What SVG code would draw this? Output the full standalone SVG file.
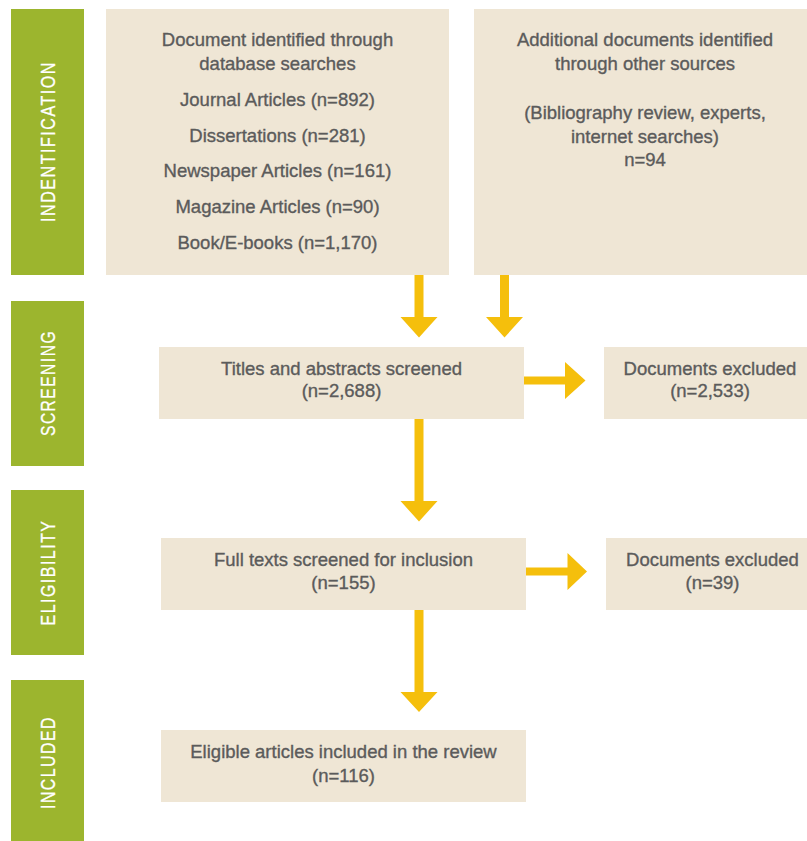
<svg xmlns="http://www.w3.org/2000/svg" width="807" height="841" viewBox="0 0 807 841">
<style>
.stage{fill:#9cb52e}
.stage-t{fill:#ffffff;stroke:#ffffff;stroke-width:0.3px;font-family:"Liberation Sans",Arial,sans-serif;font-size:21px;letter-spacing:2px;text-anchor:middle}
.box{fill:#efe6d5}
.t{fill:#5b5b5b;stroke:#5b5b5b;stroke-width:0.35px;font-family:"Liberation Sans",Arial,sans-serif;font-size:18.5px;text-anchor:middle}
.arrow{fill:#f5bf0c}
</style>
<rect width="807" height="841" fill="#ffffff"/>
<g id="stage-identification">
<rect class="stage" x="11" y="9" width="73" height="266"/>
<text class="stage-t" transform="translate(55,141.5) rotate(-90)" textLength="161" lengthAdjust="spacingAndGlyphs">INDENTIFICATION</text>
</g>
<g id="stage-screening">
<rect class="stage" x="11" y="301" width="73" height="165"/>
<text class="stage-t" transform="translate(55,383) rotate(-90)" textLength="106" lengthAdjust="spacingAndGlyphs">SCREENING</text>
</g>
<g id="stage-eligibility">
<rect class="stage" x="11" y="490" width="73" height="165"/>
<text class="stage-t" transform="translate(55,572.5) rotate(-90)" textLength="106" lengthAdjust="spacingAndGlyphs">ELIGIBILITY</text>
</g>
<g id="stage-included">
<rect class="stage" x="11" y="680" width="73" height="161"/>
<text class="stage-t" transform="translate(55,762.5) rotate(-90)" textLength="93" lengthAdjust="spacingAndGlyphs">INCLUDED</text>
</g>
<g id="database-search">
<rect class="box" x="106" y="9" width="343" height="266"/>
<text class="t" x="277.5" y="46">Document identified through</text>
<text class="t" x="277.5" y="70">database searches</text>
<text class="t" x="277.5" y="106">Journal Articles (n=892)</text>
<text class="t" x="277.5" y="142">Dissertations (n=281)</text>
<text class="t" x="277.5" y="177">Newspaper Articles (n=161)</text>
<text class="t" x="277.5" y="213">Magazine Articles (n=90)</text>
<text class="t" x="277.5" y="249">Book/E-books (n=1,170)</text>
</g>
<g id="other-sources">
<rect class="box" x="474" y="9" width="333" height="266"/>
<text class="t" x="645" y="46">Additional documents identified</text>
<text class="t" x="645" y="70">through other sources</text>
<text class="t" x="645" y="119">(Bibliography review, experts,</text>
<text class="t" x="645" y="143">internet searches)</text>
<text class="t" x="645" y="166">n=94</text>
</g>
<g id="titles-screened">
<rect class="box" x="159" y="347" width="365" height="72"/>
<text class="t" x="341.5" y="375">Titles and abstracts screened</text>
<text class="t" x="341.5" y="397">(n=2,688)</text>
</g>
<g id="excluded-screening">
<rect class="box" x="604" y="347" width="203" height="72"/>
<text class="t" x="710" y="375">Documents excluded</text>
<text class="t" x="710" y="397">(n=2,533)</text>
</g>
<g id="fulltext-screened">
<rect class="box" x="161" y="538" width="365" height="72"/>
<text class="t" x="343.5" y="566">Full texts screened for inclusion</text>
<text class="t" x="343.5" y="589">(n=155)</text>
</g>
<g id="excluded-eligibility">
<rect class="box" x="606" y="538" width="201" height="72"/>
<text class="t" x="712.5" y="566">Documents excluded</text>
<text class="t" x="712.5" y="589">(n=39)</text>
</g>
<g id="included-review">
<rect class="box" x="161" y="730" width="365" height="72"/>
<text class="t" x="343.5" y="758">Eligible articles included in the review</text>
<text class="t" x="343.5" y="782">(n=116)</text>
</g>
<g id="connectors">
<path class="arrow" d="M414.5 275 H423.5 V317 H437.5 L419 337.5 L400.5 317 H414.5 Z"/>
<path class="arrow" d="M500 275 H509 V317 H523 L504.5 337.5 L486 317 H500 Z"/>
<path class="arrow" d="M524 376.5 H565 V362 L585.5 380.5 L565 399 V384.5 H524 Z"/>
<path class="arrow" d="M414.5 419 H423.5 V501 H437.5 L419 521.5 L400.5 501 H414.5 Z"/>
<path class="arrow" d="M526 567.5 H567.5 V553 L587 571.5 L567.5 590 V575.5 H526 Z"/>
<path class="arrow" d="M414.5 610 H423.5 V692 H437.5 L419 712 L400.5 692 H414.5 Z"/>
</g>
</svg>
